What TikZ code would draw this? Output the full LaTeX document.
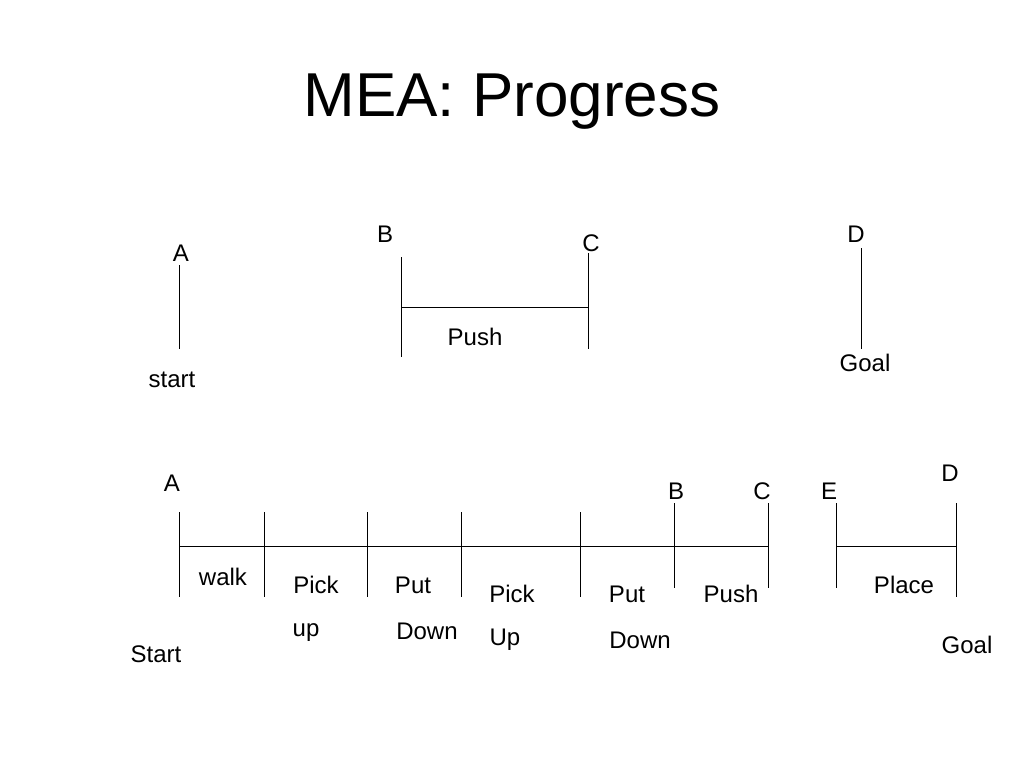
\documentclass[tikz,border=0pt]{standalone}
\usepackage{fontspec}
\setmainfont{Liberation Sans}

\begin{document}
\begin{tikzpicture}[x=1pt, y=-1pt, line width=1pt,
    lbl/.style={font=\fontsize{24}{28}\selectfont, inner sep=0pt}]
\useasboundingbox (0,0) rectangle (1024,768);
\node[font=\fontsize{62}{70}\selectfont, inner sep=0pt] (title) at (512,102) {MEA: Progress};

% first plan
\node[lbl] (a1) at (181,253) {A};
\node[lbl] (start1) at (172,380) {start};
\node[lbl] (b1) at (385,234) {B};
\node[lbl] (c1) at (591,243) {C};
\node[lbl] (push1) at (475,337) {Push};
\node[lbl] (d1) at (856,234) {D};
\node[lbl] (goal1) at (865,363) {Goal};
\coordinate (a1t) at (179,265);  \coordinate (a1b) at (179,349);
\coordinate (b1t) at (401,257);  \coordinate (b1b) at (401,357);
\coordinate (c1t) at (588,253);  \coordinate (c1b) at (588,349);
\coordinate (b1m) at (401,307);  \coordinate (c1m) at (588,307);
\coordinate (d1t) at (861,248);  \coordinate (d1b) at (861,349);
\draw (a1t) -- (a1b);
\draw (b1t) -- (b1b);
\draw (c1t) -- (c1b);
\draw (b1m) -- (c1m);
\draw (d1t) -- (d1b);

% refined plan
\node[lbl] (a2) at (172,483) {A};
\node[lbl] (start2) at (156,654) {Start};
\node[lbl] (b2) at (676,491) {B};
\node[lbl] (c2) at (762,491) {C};
\node[lbl] (e2) at (829,491) {E};
\node[lbl] (d2) at (950,473) {D};
\node[lbl] (goal2) at (967,645) {Goal};
\node[lbl] (walk) at (223,577) {walk};
\node[lbl] (pick1) at (316,585) {Pick};
\node[lbl] (up1) at (306,633) {up};
\node[lbl] (put1) at (413,585) {Put};
\node[lbl] (down1) at (427,631) {Down};
\node[lbl] (pick2) at (512,594) {Pick};
\node[lbl] (up2) at (505,640) {Up};
\node[lbl] (put2) at (627,594) {Put};
\node[lbl] (down2) at (640,640) {Down};
\node[lbl] (push2) at (731,594) {Push};
\node[lbl] (place) at (904,585) {Place};
\foreach \n/\x in {t1/179, t2/264, t3/367, t4/461, t5/580}{
    \coordinate (\n t) at (\x,512);
    \coordinate (\n b) at (\x,597);
    \draw (\n t) -- (\n b);
}
\foreach \n/\x in {t6/674, t7/768, t8/836}{
    \coordinate (\n t) at (\x,503);
    \coordinate (\n b) at (\x,588);
    \draw (\n t) -- (\n b);
}
\coordinate (t9t) at (956,503);  \coordinate (t9b) at (956,597);
\draw (t9t) -- (t9b);
\coordinate (l1) at (179,546);  \coordinate (r1) at (768,546);
\coordinate (l2) at (836,546);  \coordinate (r2) at (956,546);
\draw (l1) -- (r1);
\draw (l2) -- (r2);
\end{tikzpicture}
\end{document}
